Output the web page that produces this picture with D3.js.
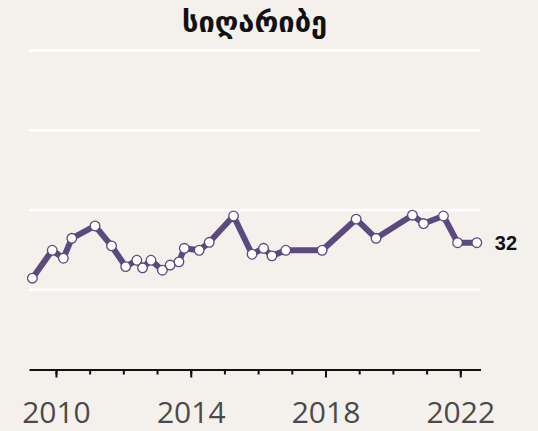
<!DOCTYPE html>
<html>
<head>
<meta charset="utf-8">
<script src="https://cdn.jsdelivr.net/npm/d3@7"></script>
<style>
  body { margin: 0; background: #f4f1ec; }
  svg { display: block; }
</style>
</head>
<body>
<div id="chart"></div>
<script>
// Survey dates (decimal years) and poverty share
let years = [2009.30, 2009.89, 2010.22, 2010.47, 2011.16, 2011.65, 2012.07, 2012.40, 2012.57, 2012.82,
             2013.16, 2013.39, 2013.65, 2013.81, 2014.25, 2014.55, 2015.27, 2015.82, 2016.16, 2016.41,
             2016.82, 2017.90, 2018.91, 2019.50, 2020.58, 2020.91, 2021.50, 2021.92, 2022.49];
let values = [22.9, 29.9, 27.9, 32.9, 36.0, 31.0, 25.8, 27.4, 25.5, 27.4,
              24.9, 26.2, 27.0, 30.4, 29.9, 31.9, 38.5, 28.9, 30.4, 28.5,
              29.9, 29.9, 37.7, 32.9, 38.7, 36.6, 38.5, 31.8, 31.8];
let gridValues = [20, 40, 60, 80];
let minorTicks = d3.range(2010, 2023);
let majorTicks = [2010, 2014, 2018, 2022];
let title = 'სიღარიბე';
let lastLabel = '32';

let width = 538, height = 431;

let svg = d3.select('#chart')
  .append('svg')
  .attr('width', width)
  .attr('height', height);

svg.append('rect')
  .attr('width', width)
  .attr('height', height)
  .attr('fill', '#f4f1ec');

// Scales
let xScale = d3.scaleLinear().domain([2009.2, 2022.6]).range([29, 480.5]);
let yScale = d3.scaleLinear().domain([0, 80]).range([369.5, 50.5]);

// Title
svg.append('text')
  .attr('x', 254.5)
  .attr('y', 32)
  .attr('text-anchor', 'middle')
  .style('font-family', '"DejaVu Sans", sans-serif')
  .style('font-weight', 'bold')
  .style('font-size', '29px')
  .attr('fill', '#111')
  .text(title);

// White gridlines
svg.selectAll('.grid')
  .data(gridValues)
  .enter()
  .append('line')
  .attr('class', 'grid')
  .attr('x1', xScale.range()[0])
  .attr('x2', xScale.range()[1])
  .attr('y1', d => yScale(d))
  .attr('y2', d => yScale(d))
  .attr('stroke', '#ffffff')
  .attr('stroke-width', 2.5);

// x axis: minor ticks each year, longer labelled ticks every 4 years
let xAxisMinor = d3.axisBottom(xScale)
  .tickValues(minorTicks)
  .tickSize(5)
  .tickSizeOuter(0)
  .tickFormat('');

let gMinor = svg.append('g')
  .attr('transform', 'translate(0,' + yScale(0) + ')')
  .call(xAxisMinor);
gMinor.select('.domain').attr('stroke', '#111').attr('stroke-width', 2);
gMinor.selectAll('.tick line').attr('stroke', '#111').attr('stroke-width', 2);

let xAxisMajor = d3.axisBottom(xScale)
  .tickValues(majorTicks)
  .tickSize(8)
  .tickPadding(24)
  .tickFormat(d3.format('d'));

let gMajor = svg.append('g')
  .attr('transform', 'translate(0,' + yScale(0) + ')')
  .call(xAxisMajor);
gMajor.select('.domain').remove();
gMajor.selectAll('.tick line').attr('stroke', '#111').attr('stroke-width', 2);
gMajor.selectAll('.tick text')
  .attr('fill', '#4a4a4a')
  .style('font-family', '"Open Sans", sans-serif')
  .style('font-size', '30px');

// Line
let points = years.map((y, i) => [y, values[i]]);
let line = d3.line()
  .x(d => xScale(d[0]))
  .y(d => yScale(d[1]));

svg.append('path')
  .datum(points)
  .attr('d', line)
  .attr('fill', 'none')
  .attr('stroke', '#5b4a7e')
  .attr('stroke-width', 6)
  .attr('stroke-linejoin', 'round');

svg.selectAll('.dot')
  .data(points)
  .enter()
  .append('circle')
  .attr('class', 'dot')
  .attr('cx', d => xScale(d[0]))
  .attr('cy', d => yScale(d[1]))
  .attr('r', 4.8)
  .attr('fill', '#ffffff')
  .attr('stroke', '#5b4a7e')
  .attr('stroke-width', 1.3);

// End label
let last = points[points.length - 1];
svg.append('text')
  .attr('x', xScale(last[0]) + 18)
  .attr('y', yScale(last[1]))
  .attr('dy', '0.35em')
  .style('font-family', '"Liberation Sans", Arial, sans-serif')
  .style('font-weight', 'bold')
  .style('font-size', '20px')
  .attr('fill', '#111')
  .text(lastLabel);
</script>
</body>
</html>
